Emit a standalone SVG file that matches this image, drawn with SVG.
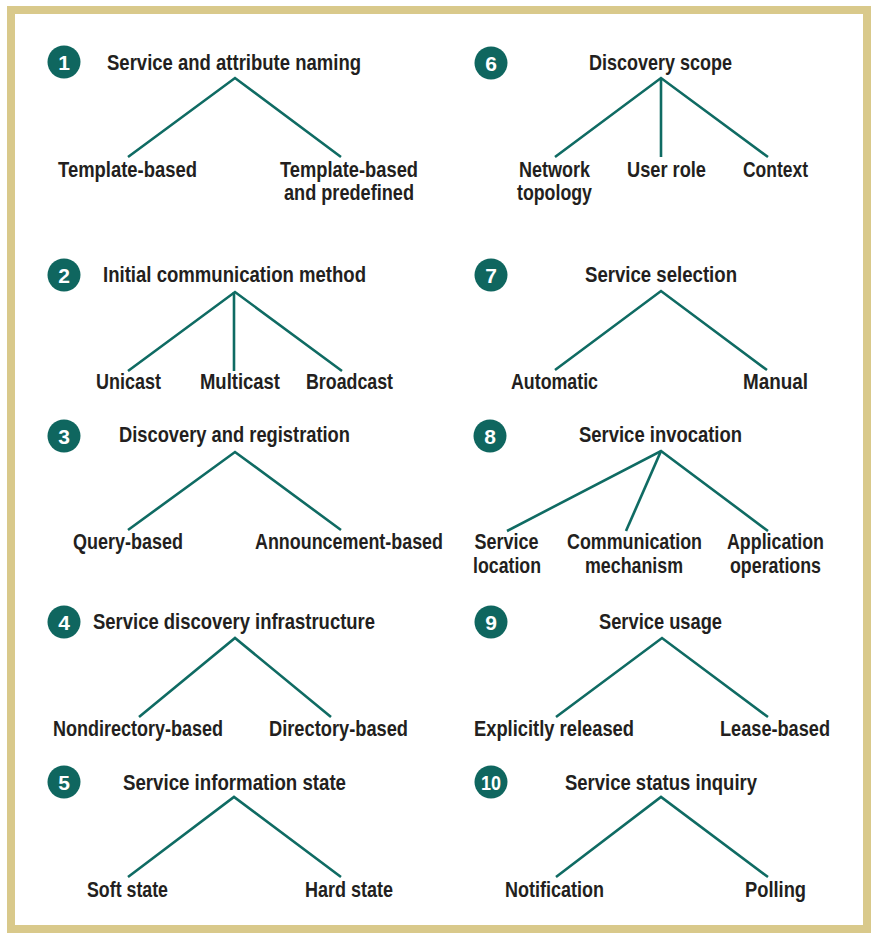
<svg xmlns="http://www.w3.org/2000/svg" width="871" height="936" viewBox="0 0 871 936">
<style>
.t{font-family:"Liberation Sans Narrow","Liberation Sans",Arial,sans-serif;font-weight:bold;font-size:22px;fill:#231f20;text-anchor:middle}
.n{font-family:"Liberation Sans Narrow","Liberation Sans",Arial,sans-serif;font-weight:bold;font-size:21px;fill:#ffffff;text-anchor:middle}
.c{fill:#0f665f}
.l{stroke:#0f6b63;stroke-width:2.6;fill:none;stroke-linecap:butt;stroke-linejoin:miter}
</style>
<rect x="0" y="0" width="871" height="936" fill="#ffffff"/>
<rect x="11" y="10" width="856" height="919" fill="#ffffff" stroke="#d9c98b" stroke-width="8"/>

<g id="connectors">
<polyline class="l" points="128,157 235,78 341,157"/>
<polyline class="l" points="555,157 661,78 768,157"/><line class="l" x1="661" y1="78" x2="661" y2="157"/>
<polyline class="l" points="128,371 235,292 342,371"/><line class="l" x1="234" y1="292" x2="234" y2="371"/>
<polyline class="l" points="555,370 661,291 767,370"/>
<polyline class="l" points="128,530 235,452 341,530"/>
<polyline class="l" points="507,531 661,451 768,531"/><line class="l" x1="661" y1="451" x2="626" y2="531"/>
<polyline class="l" points="139,717 235,638 331,717"/>
<polyline class="l" points="556,717 662,638 768,717"/>
<polyline class="l" points="128,877 234,797 341,877"/>
<polyline class="l" points="556,877 661,797 768,877"/>
</g>

<g id="n1">
<circle class="c" cx="64" cy="62" r="16.5"/><text class="n" x="64" y="69.5">1</text>
<text class="t" x="234" y="70" textLength="254" lengthAdjust="spacingAndGlyphs">Service and attribute naming</text>
</g>
<g id="n1a"><text class="t" x="127.5" y="177" textLength="139" lengthAdjust="spacingAndGlyphs">Template-based</text></g>
<g id="n1b"><text class="t" x="349" y="177" textLength="138" lengthAdjust="spacingAndGlyphs">Template-based</text><text class="t" x="349" y="200" textLength="130" lengthAdjust="spacingAndGlyphs">and predefined</text></g>

<g id="n6">
<circle class="c" cx="491" cy="63" r="16.5"/><text class="n" x="491" y="70.5">6</text>
<text class="t" x="660.5" y="70" textLength="143" lengthAdjust="spacingAndGlyphs">Discovery scope</text>
</g>
<g id="n6a"><text class="t" x="554.5" y="177" textLength="71" lengthAdjust="spacingAndGlyphs">Network</text><text class="t" x="554.5" y="200" textLength="75" lengthAdjust="spacingAndGlyphs">topology</text></g>
<g id="n6b"><text class="t" x="666.5" y="177" textLength="79" lengthAdjust="spacingAndGlyphs">User role</text></g>
<g id="n6c"><text class="t" x="775.5" y="177" textLength="65" lengthAdjust="spacingAndGlyphs">Context</text></g>

<g id="n2">
<circle class="c" cx="64" cy="275" r="16.5"/><text class="n" x="64" y="282.5">2</text>
<text class="t" x="234.5" y="282" textLength="263" lengthAdjust="spacingAndGlyphs">Initial communication method</text>
</g>
<g id="n2a"><text class="t" x="128.5" y="389" textLength="65" lengthAdjust="spacingAndGlyphs">Unicast</text></g>
<g id="n2b"><text class="t" x="240" y="389" textLength="80" lengthAdjust="spacingAndGlyphs">Multicast</text></g>
<g id="n2c"><text class="t" x="349.5" y="389" textLength="87" lengthAdjust="spacingAndGlyphs">Broadcast</text></g>

<g id="n7">
<circle class="c" cx="491" cy="275" r="16.5"/><text class="n" x="491" y="282.5">7</text>
<text class="t" x="661" y="282" textLength="152" lengthAdjust="spacingAndGlyphs">Service selection</text>
</g>
<g id="n7a"><text class="t" x="554.5" y="389" textLength="87" lengthAdjust="spacingAndGlyphs">Automatic</text></g>
<g id="n7b"><text class="t" x="775.5" y="389" textLength="65" lengthAdjust="spacingAndGlyphs">Manual</text></g>

<g id="n3">
<circle class="c" cx="64" cy="436" r="16.5"/><text class="n" x="64" y="443.5">3</text>
<text class="t" x="234.5" y="442" textLength="231" lengthAdjust="spacingAndGlyphs">Discovery and registration</text>
</g>
<g id="n3a"><text class="t" x="128" y="549" textLength="110" lengthAdjust="spacingAndGlyphs">Query-based</text></g>
<g id="n3b"><text class="t" x="349" y="549" textLength="188" lengthAdjust="spacingAndGlyphs">Announcement-based</text></g>

<g id="n8">
<circle class="c" cx="490" cy="436" r="16.5"/><text class="n" x="490" y="443.5">8</text>
<text class="t" x="660.5" y="442" textLength="163" lengthAdjust="spacingAndGlyphs">Service invocation</text>
</g>
<g id="n8a"><text class="t" x="506.5" y="549" textLength="64" lengthAdjust="spacingAndGlyphs">Service</text><text class="t" x="507" y="573" textLength="68" lengthAdjust="spacingAndGlyphs">location</text></g>
<g id="n8b"><text class="t" x="634.5" y="549" textLength="135" lengthAdjust="spacingAndGlyphs">Communication</text><text class="t" x="634" y="573" textLength="98" lengthAdjust="spacingAndGlyphs">mechanism</text></g>
<g id="n8c"><text class="t" x="775.5" y="549" textLength="97" lengthAdjust="spacingAndGlyphs">Application</text><text class="t" x="775.5" y="573" textLength="91" lengthAdjust="spacingAndGlyphs">operations</text></g>

<g id="n4">
<circle class="c" cx="64" cy="622" r="16.5"/><text class="n" x="64" y="629.5">4</text>
<text class="t" x="234" y="629" textLength="282" lengthAdjust="spacingAndGlyphs">Service discovery infrastructure</text>
</g>
<g id="n4a"><text class="t" x="138" y="736" textLength="170" lengthAdjust="spacingAndGlyphs">Nondirectory-based</text></g>
<g id="n4b"><text class="t" x="338.5" y="736" textLength="139" lengthAdjust="spacingAndGlyphs">Directory-based</text></g>

<g id="n9">
<circle class="c" cx="491" cy="622" r="16.5"/><text class="n" x="491" y="629.5">9</text>
<text class="t" x="660.5" y="629" textLength="123" lengthAdjust="spacingAndGlyphs">Service usage</text>
</g>
<g id="n9a"><text class="t" x="554" y="736" textLength="160" lengthAdjust="spacingAndGlyphs">Explicitly released</text></g>
<g id="n9b"><text class="t" x="775" y="736" textLength="110" lengthAdjust="spacingAndGlyphs">Lease-based</text></g>

<g id="n5">
<circle class="c" cx="64" cy="782" r="16.5"/><text class="n" x="64" y="789.5">5</text>
<text class="t" x="234.5" y="790" textLength="223" lengthAdjust="spacingAndGlyphs">Service information state</text>
</g>
<g id="n5a"><text class="t" x="127.5" y="897" textLength="81" lengthAdjust="spacingAndGlyphs">Soft state</text></g>
<g id="n5b"><text class="t" x="349" y="897" textLength="88" lengthAdjust="spacingAndGlyphs">Hard state</text></g>

<g id="n10">
<circle class="c" cx="491" cy="782" r="16.5"/><text class="n" x="491" y="789.5" textLength="20" lengthAdjust="spacingAndGlyphs">10</text>
<text class="t" x="661" y="790" textLength="192" lengthAdjust="spacingAndGlyphs">Service status inquiry</text>
</g>
<g id="n10a"><text class="t" x="554.5" y="897" textLength="99" lengthAdjust="spacingAndGlyphs">Notification</text></g>
<g id="n10b"><text class="t" x="775.5" y="897" textLength="61" lengthAdjust="spacingAndGlyphs">Polling</text></g>
</svg>
